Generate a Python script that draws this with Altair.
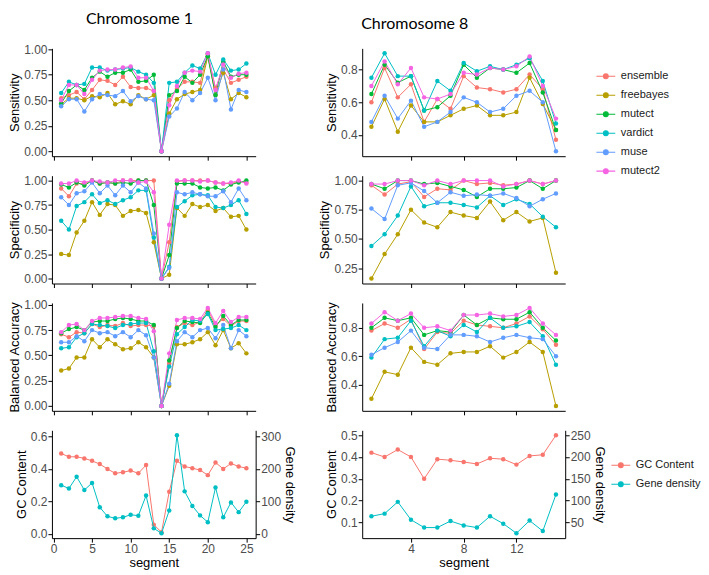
import altair as alt
import pandas as pd

# ---------------- data ----------------
tools = ["ensemble", "freebayes", "mutect", "vardict", "muse", "mutect2"]
tool_colors = ["#F8766D", "#B79F00", "#00BA38", "#00BFC4", "#619CFF", "#F564E3"]
gc_series = ["GC Content", "Gene density"]
gc_colors = ["#F8766D", "#00BFC4"]

seg_chr1 = list(range(1, 26))
seg_chr8 = list(range(1, 16))

chr1_sensitivity = {
    "ensemble":  [0.52, 0.55, 0.58, 0.51, 0.60, 0.70, 0.69, 0.65, 0.73, 0.63, 0.62, 0.62, 0.59, 0.00, 0.50, 0.61, 0.68, 0.68, 0.67, 0.95, 0.62, 0.80, 0.67, 0.70, 0.73],
    "freebayes": [0.46, 0.52, 0.52, 0.50, 0.54, 0.53, 0.57, 0.46, 0.49, 0.46, 0.55, 0.51, 0.55, 0.00, 0.37, 0.51, 0.56, 0.58, 0.60, 0.93, 0.55, 0.77, 0.51, 0.57, 0.53],
    "mutect":    [0.47, 0.59, 0.65, 0.60, 0.72, 0.78, 0.73, 0.77, 0.77, 0.80, 0.68, 0.69, 0.75, 0.00, 0.55, 0.59, 0.73, 0.67, 0.75, 0.93, 0.55, 0.88, 0.73, 0.75, 0.75],
    "vardict":   [0.57, 0.68, 0.65, 0.66, 0.82, 0.82, 0.79, 0.80, 0.81, 0.82, 0.78, 0.75, 0.67, 0.00, 0.67, 0.68, 0.77, 0.84, 0.81, 0.96, 0.75, 0.90, 0.79, 0.80, 0.86],
    "muse":      [0.44, 0.51, 0.51, 0.39, 0.51, 0.56, 0.55, 0.54, 0.59, 0.49, 0.54, 0.51, 0.50, 0.00, 0.34, 0.42, 0.58, 0.50, 0.57, 0.72, 0.50, 0.80, 0.41, 0.60, 0.58],
    "mutect2":   [0.50, 0.65, 0.65, 0.56, 0.70, 0.79, 0.80, 0.80, 0.82, 0.83, 0.72, 0.72, 0.59, 0.00, 0.45, 0.64, 0.77, 0.79, 0.78, 0.96, 0.60, 0.85, 0.72, 0.76, 0.77],
}
chr1_specificity = {
    "ensemble":  [0.92, 0.84, 0.97, 0.97, 1.00, 0.97, 0.98, 0.97, 1.00, 1.00, 1.00, 1.00, 1.00, 0.00, 0.37, 0.99, 1.00, 1.00, 1.00, 1.00, 0.98, 0.97, 0.97, 0.99, 0.98],
    "freebayes": [0.25, 0.24, 0.47, 0.59, 0.78, 0.65, 0.76, 0.75, 0.64, 0.69, 0.70, 0.67, 0.37, 0.00, 0.04, 0.72, 0.64, 0.76, 0.73, 0.75, 0.69, 0.72, 0.63, 0.64, 0.50],
    "mutect":    [0.96, 0.93, 0.98, 0.95, 1.00, 0.97, 0.98, 0.97, 0.98, 0.97, 1.00, 1.00, 0.75, 0.00, 0.24, 0.97, 0.97, 0.97, 0.93, 0.92, 0.93, 0.90, 0.96, 0.98, 1.00],
    "vardict":   [0.59, 0.50, 0.74, 0.78, 0.86, 0.77, 0.80, 0.76, 0.80, 0.83, 0.90, 0.90, 0.42, 0.00, 0.12, 0.73, 0.79, 0.85, 0.86, 0.85, 0.73, 0.72, 0.75, 0.80, 0.66],
    "muse":      [0.83, 0.75, 0.87, 0.89, 0.98, 0.87, 0.95, 0.85, 0.95, 0.88, 0.98, 0.92, 0.46, 0.00, 0.11, 0.88, 0.86, 0.88, 0.86, 0.84, 0.84, 0.89, 0.78, 0.92, 0.80],
    "mutect2":   [0.97, 0.97, 1.00, 0.98, 1.00, 0.99, 0.98, 1.00, 1.00, 1.00, 0.98, 0.99, 0.88, 0.00, 0.55, 1.00, 1.00, 1.00, 0.99, 1.00, 0.98, 0.97, 0.98, 1.00, 0.97],
}
chr1_balanced = {
    "ensemble":  [0.71, 0.68, 0.73, 0.72, 0.81, 0.78, 0.80, 0.79, 0.82, 0.79, 0.80, 0.80, 0.79, 0.00, 0.42, 0.78, 0.82, 0.80, 0.83, 0.95, 0.80, 0.86, 0.79, 0.84, 0.84],
    "freebayes": [0.35, 0.37, 0.48, 0.48, 0.66, 0.58, 0.66, 0.61, 0.56, 0.57, 0.63, 0.58, 0.48, 0.00, 0.20, 0.61, 0.61, 0.63, 0.66, 0.73, 0.60, 0.75, 0.57, 0.62, 0.52],
    "mutect":    [0.72, 0.76, 0.78, 0.75, 0.83, 0.84, 0.84, 0.86, 0.87, 0.86, 0.84, 0.84, 0.80, 0.00, 0.45, 0.77, 0.84, 0.83, 0.82, 0.92, 0.78, 0.89, 0.80, 0.85, 0.85],
    "vardict":   [0.57, 0.58, 0.68, 0.72, 0.81, 0.80, 0.79, 0.77, 0.80, 0.81, 0.82, 0.82, 0.54, 0.00, 0.39, 0.71, 0.78, 0.85, 0.84, 0.91, 0.75, 0.76, 0.77, 0.80, 0.75],
    "muse":      [0.63, 0.63, 0.69, 0.64, 0.75, 0.72, 0.73, 0.69, 0.73, 0.68, 0.75, 0.70, 0.48, 0.00, 0.22, 0.64, 0.73, 0.68, 0.75, 0.77, 0.67, 0.80, 0.57, 0.75, 0.69],
    "mutect2":   [0.73, 0.80, 0.81, 0.75, 0.84, 0.87, 0.87, 0.88, 0.89, 0.89, 0.87, 0.86, 0.74, 0.00, 0.52, 0.85, 0.87, 0.87, 0.86, 0.97, 0.82, 0.94, 0.83, 0.88, 0.88],
}
chr1_gc_content = [0.495, 0.475, 0.475, 0.465, 0.45, 0.43, 0.40, 0.373, 0.38, 0.39, 0.373, 0.424, 0.057,
                   0.01, 0.26, 0.45, 0.415, 0.405, 0.393, 0.362, 0.44, 0.40, 0.434, 0.415, 0.405]
chr1_gene_density = [150, 140, 176, 135, 157, 82, 54, 48, 51, 59, 56, 118, 17,
                     2, 72, 304, 131, 86, 57, 36, 143, 51, 97, 67, 99]

chr8_sensitivity = {
    "ensemble":  [0.60, 0.81, 0.63, 0.71, 0.48, 0.62, 0.56, 0.76, 0.69, 0.68, 0.66, 0.68, 0.77, 0.68, 0.37],
    "freebayes": [0.45, 0.62, 0.42, 0.58, 0.48, 0.48, 0.52, 0.56, 0.58, 0.52, 0.52, 0.54, 0.75, 0.59, 0.43],
    "mutect":    [0.65, 0.83, 0.72, 0.76, 0.55, 0.57, 0.64, 0.83, 0.75, 0.81, 0.80, 0.78, 0.84, 0.66, 0.43],
    "vardict":   [0.75, 0.90, 0.76, 0.76, 0.55, 0.73, 0.67, 0.84, 0.79, 0.82, 0.80, 0.83, 0.87, 0.73, 0.47],
    "muse":      [0.48, 0.64, 0.50, 0.61, 0.45, 0.48, 0.54, 0.63, 0.60, 0.54, 0.56, 0.64, 0.67, 0.60, 0.30],
    "mutect2":   [0.70, 0.85, 0.71, 0.81, 0.63, 0.62, 0.65, 0.78, 0.77, 0.81, 0.80, 0.82, 0.88, 0.70, 0.50],
}
chr8_specificity = {
    "ensemble":  [0.96, 0.88, 0.97, 0.99, 0.86, 0.93, 0.92, 1.00, 0.97, 0.98, 0.96, 0.97, 1.00, 0.97, 1.00],
    "freebayes": [0.16, 0.37, 0.54, 0.75, 0.64, 0.60, 0.73, 0.70, 0.68, 0.82, 0.66, 0.73, 0.65, 0.68, 0.21],
    "mutect":    [0.97, 0.93, 1.00, 1.00, 0.97, 0.98, 0.95, 0.92, 0.86, 0.93, 0.93, 0.94, 1.00, 0.93, 1.00],
    "vardict":   [0.44, 0.54, 0.70, 0.95, 0.78, 0.81, 0.81, 0.79, 0.77, 0.87, 0.79, 0.84, 0.80, 0.69, 0.60],
    "muse":      [0.76, 0.67, 0.96, 0.98, 0.91, 0.81, 0.90, 0.87, 0.88, 0.87, 0.89, 0.85, 0.78, 0.84, 0.89],
    "mutect2":   [0.97, 0.97, 1.00, 1.00, 0.96, 1.00, 0.97, 1.00, 1.00, 1.00, 0.95, 0.97, 1.00, 0.97, 1.00],
}
chr8_balanced = {
    "ensemble":  [0.78, 0.83, 0.80, 0.86, 0.65, 0.77, 0.76, 0.85, 0.82, 0.81, 0.80, 0.83, 0.88, 0.79, 0.68],
    "freebayes": [0.30, 0.49, 0.47, 0.66, 0.56, 0.54, 0.62, 0.63, 0.63, 0.67, 0.59, 0.63, 0.70, 0.63, 0.25],
    "mutect":    [0.80, 0.87, 0.85, 0.87, 0.75, 0.78, 0.77, 0.89, 0.82, 0.87, 0.86, 0.86, 0.91, 0.80, 0.71],
    "vardict":   [0.59, 0.72, 0.73, 0.85, 0.67, 0.78, 0.74, 0.82, 0.77, 0.87, 0.80, 0.81, 0.84, 0.74, 0.54],
    "muse":      [0.61, 0.66, 0.70, 0.78, 0.66, 0.65, 0.75, 0.75, 0.74, 0.70, 0.73, 0.75, 0.73, 0.72, 0.60],
    "mutect2":   [0.83, 0.91, 0.85, 0.90, 0.80, 0.81, 0.78, 0.89, 0.89, 0.90, 0.88, 0.89, 0.94, 0.83, 0.75],
}
chr8_gc_content = [0.42, 0.40, 0.434, 0.40, 0.30, 0.39, 0.385, 0.377, 0.368, 0.394, 0.39, 0.365, 0.405, 0.41, 0.50]
chr8_gene_density = [64, 70, 97, 56, 38, 38, 53, 43, 38, 64, 47, 25, 54, 30, 114]

GENE_FACTOR = 500  # secondary axis: gene density = GC scale * 500

# ---------------- helpers ----------------
FONT = "Liberation Sans"
H = 108
W1, W8 = 204.0, 203.3
COL_GAP = 106.7
LEG_PATH = "M-1.05,0L1.05,0M0.27,0A0.27,0.27,0,1,1,-0.27,0A0.27,0.27,0,1,1,0.27,0Z"


def expand(lo, hi, f=0.05):
    r = hi - lo
    return [lo - f * r, hi + f * r]


def legend_params(x, y):
    return alt.Legend(title=None, orient="none", legendX=x, legendY=y,
                      symbolType=LEG_PATH, symbolSize=324, symbolStrokeWidth=1.1,
                      labelFont=FONT, labelFontSize=11, labelColor="#1A1A1A",
                      rowPadding=4, padding=0, labelOffset=5)


def col_title(text, dx):
    return alt.TitleParams(text, anchor="start", frame="group", dx=dx, offset=16,
                           font="Lato", fontSize=16, fontWeight="normal", color="black")


def tool_frame(seg, table):
    rows = []
    for t in tools:
        for s, v in zip(seg, table[t]):
            rows.append({"segment": s, "value": v, "tool": t})
    return pd.DataFrame(rows)


def x_enc(seg, xticks, bottom):
    return alt.X("segment:Q",
                 scale=alt.Scale(domain=expand(min(seg), max(seg)), nice=False, zero=False),
                 axis=alt.Axis(values=xticks, labels=bottom, title="segment" if bottom else None))


def metric_panel(seg, table, ytitle, yticks, yfmt, xticks, width, legend=None):
    df = tool_frame(seg, table)
    ydom = expand(df["value"].min(), df["value"].max())
    x = x_enc(seg, xticks, False)
    y = alt.Y("value:Q", scale=alt.Scale(domain=ydom, nice=False, zero=False),
              axis=alt.Axis(values=yticks, format=yfmt, title=ytitle))
    sc = alt.Scale(domain=tools, range=tool_colors)
    base = alt.Chart(df)
    line = base.mark_line(strokeWidth=1).encode(
        x=x, y=y, stroke=alt.Stroke("tool:N", scale=sc, legend=legend))
    pts = base.mark_circle(size=20, opacity=1).encode(
        x=x, y=y, fill=alt.Fill("tool:N", scale=sc, legend=legend))
    return alt.layer(line, pts).properties(width=width, height=H)


def gc_panel(seg, gc, genes, lticks, rticks, xticks, width, legend=None):
    lo = min(min(gc), min(genes) / GENE_FACTOR)
    hi = max(max(gc), max(genes) / GENE_FACTOR)
    ldom = expand(lo, hi)
    rdom = [ldom[0] * GENE_FACTOR, ldom[1] * GENE_FACTOR]
    df_gc = pd.DataFrame({"segment": seg, "value": gc, "series": gc_series[0]})
    df_gd = pd.DataFrame({"segment": seg, "value": genes, "series": gc_series[1]})
    sc = alt.Scale(domain=gc_series, range=gc_colors)
    x = x_enc(seg, xticks, True)
    yl = alt.Y("value:Q", scale=alt.Scale(domain=ldom, nice=False, zero=False),
               axis=alt.Axis(values=lticks, format=".1f", title="GC Content"))
    yr = alt.Y("value:Q", scale=alt.Scale(domain=rdom, nice=False, zero=False),
               axis=alt.Axis(values=rticks, format="d", title="Gene density", orient="right"))

    def pair(df, y):
        b = alt.Chart(df)
        ln = b.mark_line(strokeWidth=1).encode(
            x=x, y=y, stroke=alt.Stroke("series:N", scale=sc, legend=legend))
        pt = b.mark_circle(size=20, opacity=1).encode(
            x=x, y=y, fill=alt.Fill("series:N", scale=sc, legend=legend))
        return alt.layer(ln, pt)

    return alt.layer(pair(df_gc, yl), pair(df_gd, yr)).resolve_scale(y="independent").properties(
        width=width, height=H)


ind = dict(x="independent", y="independent", stroke="independent", fill="independent")

t1 = [0, 5, 10, 15, 20, 25]
t8 = [4, 8, 12]
q = [0, 0.25, 0.5, 0.75, 1.0]

panels = [
    metric_panel(seg_chr1, chr1_sensitivity, "Sensitivity", q, ".2f", t1, W1).properties(
        title=col_title("Chromosome 1", 34)),
    metric_panel(seg_chr8, chr8_sensitivity, "Sensitivity", [0.4, 0.6, 0.8], ".1f", t8, W8,
                 legend=legend_params(234, 18)).properties(title=col_title("Chromosome 8", -1)),
    metric_panel(seg_chr1, chr1_specificity, "Specificity", q, ".2f", t1, W1),
    metric_panel(seg_chr8, chr8_specificity, "Specificity", [0.25, 0.5, 0.75, 1.0], ".2f", t8, W8),
    metric_panel(seg_chr1, chr1_balanced, "Balanced Accuracy", q, ".2f", t1, W1),
    metric_panel(seg_chr8, chr8_balanced, "Balanced Accuracy", [0.4, 0.6, 0.8], ".1f", t8, W8),
    gc_panel(seg_chr1, chr1_gc_content, chr1_gene_density, [0, 0.2, 0.4, 0.6], [0, 100, 200, 300], t1, W1),
    gc_panel(seg_chr8, chr8_gc_content, chr8_gene_density, [0.1, 0.2, 0.3, 0.4, 0.5],
             [50, 100, 150, 200, 250], t8, W8, legend=legend_params(249, 25)),
]

chart = alt.concat(*panels, columns=2, bounds="flush",
                   spacing={"row": 19.5, "column": COL_GAP}).resolve_scale(**ind).properties(
    padding={"left": 0, "top": 2, "right": 0, "bottom": 0}
).configure_view(stroke=None).configure_axis(
    grid=False, domainColor="black", domainWidth=1, tickColor="black", tickSize=4, tickWidth=1,
    labelFont=FONT, labelFontSize=12, labelColor="#4D4D4D", labelPadding=1,
    titleFont=FONT, titleFontSize=13, titleFontWeight="normal", titleColor="black", titlePadding=2,
)

chart.save("out.html", embed_options={"renderer": "svg", "actions": False})
